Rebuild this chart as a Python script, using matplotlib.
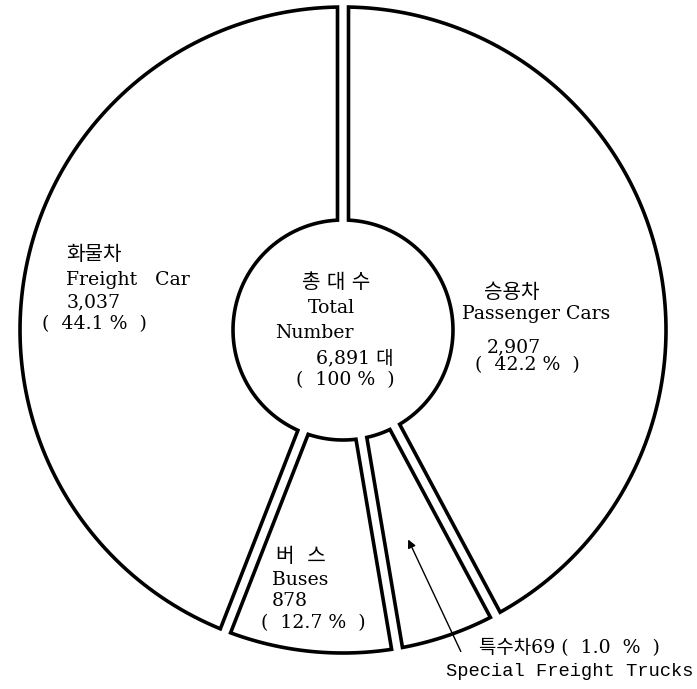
import numpy as np
import matplotlib.pyplot as plt
from matplotlib.patches import Polygon

plt.rcParams['font.family'] = ['DejaVu Serif', 'Noto Sans CJK KR']

# vehicle counts (대), clockwise from 12 o'clock
kinds_kr = ['승용차', '특수차', '버  스', '화물차']
kinds_en = ['Passenger Cars', 'Special Freight Trucks', 'Buses', 'Freight   Car']
counts = np.array([2907, 69, 878, 3037])
pcts = [42.2, 1.0, 12.7, 44.1]
total = 6891

fig = plt.figure(figsize=(6.97, 6.89), dpi=100)
ax = fig.add_axes([0, 0, 1, 1])
ax.set_xlim(0, 697)
ax.set_ylim(689, 0)
ax.axis('off')

cx, cy = 343, 330
R, r = 323, 110
gap = 11

ang = counts / counts.sum() * 360
# the tiny slice is drawn wider in the original, the room comes out of the bus slice
extra = 18.5 - ang[1]
ang[1] += extra
ang[2] -= extra
edges = np.concatenate([[0], np.cumsum(ang)])


def pt(phi, rho):
    a = np.radians(phi)
    return cx + rho * np.sin(a), cy - rho * np.cos(a)


do = np.degrees(np.arcsin(gap / 2 / R))
di = np.degrees(np.arcsin(gap / 2 / r))
for a0, a1 in zip(edges[:-1], edges[1:]):
    outer = [pt(p, R) for p in np.linspace(a0 + do, a1 - do, 120)]
    inner = [pt(p, r) for p in np.linspace(a1 - di, a0 + di, 60)]
    ax.add_patch(Polygon(outer + inner, closed=True, fc='white', ec='black',
                         lw=2.6, joinstyle='miter'))

fs = 13.6
kw = dict(fontsize=fs, va='center', ha='left', color='black')
kr = dict(fontsize=14.5, va='center', ha='left', color='black')

# freight
ax.text(66, 255, kinds_kr[3], **kr)
ax.text(66, 280, kinds_en[3], **kw)
ax.text(67, 302, f'{counts[3]:,}', **kw)
ax.text(42, 324, f'(  {pcts[3]} %  )', **kw)

# total
ax.text(336, 283, '총 대 수', fontsize=14.5, ha='center', va='center')
ax.text(331, 308, 'Total', fontsize=fs, ha='center', va='center')
ax.text(275, 333, 'Number', **kw)
ax.text(316, 358, f'{total:,} 대', **kw)
ax.text(296, 380, '(  100 %  )', **kw)

# passenger
ax.text(484, 293, kinds_kr[0], **kr)
ax.text(462, 314, kinds_en[0], **kw)
ax.text(487, 347, f'{counts[0]:,}', **kw)
ax.text(475, 365, f'(  {pcts[0]} %  )', **kw)

# buses
ax.text(276, 557, kinds_kr[2], **kr)
ax.text(272, 580, kinds_en[2], **kw)
ax.text(272, 601, f'{counts[2]:,}', **kw)
ax.text(261, 623, f'(  {pcts[2]} %  )', **kw)

# special trucks, labelled outside with an arrow
ax.text(479, 648, f'{kinds_kr[1]}{counts[1]} (  {pcts[1]}  %  )', **kw)
ax.text(446, 672, kinds_en[1], fontsize=13.5, ha='left', va='center',
        family=['Liberation Mono', 'Noto Sans CJK KR'])
ax.annotate('', xy=(407, 537), xytext=(462, 654),
            arrowprops=dict(arrowstyle='-|>', color='black', lw=1, mutation_scale=12))

fig.savefig('out.png', dpi=100)
